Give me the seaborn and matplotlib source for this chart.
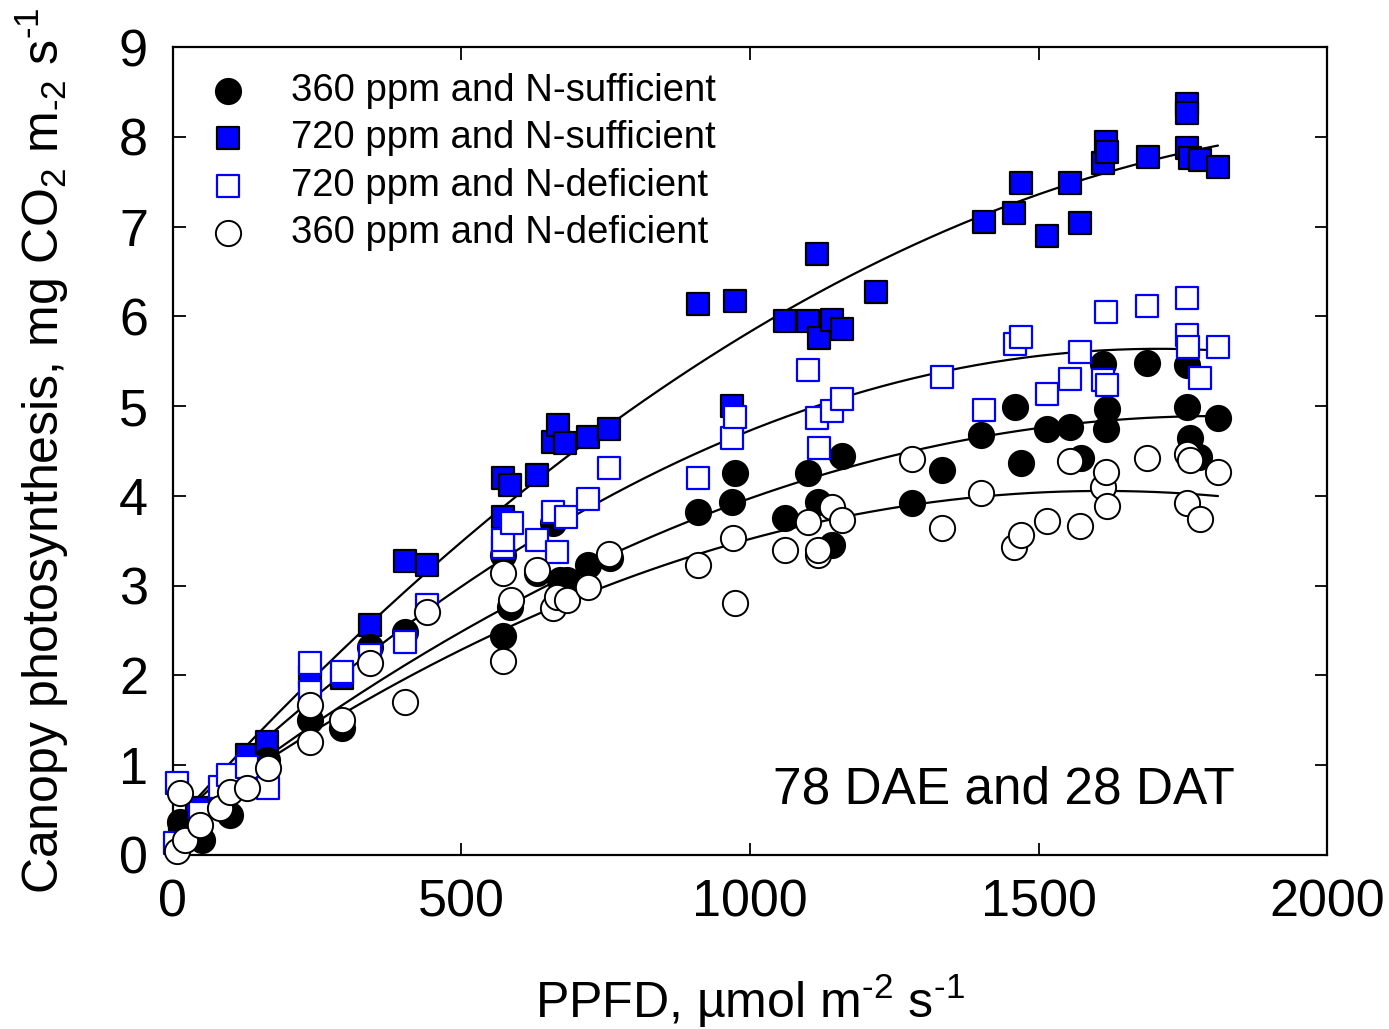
import numpy as np
import matplotlib
matplotlib.use("Agg")
import matplotlib.pyplot as plt
import seaborn as sns

# PPFD (x) and canopy photosynthesis (y), one pair of lists per treatment
x_360_suff = [12, 50, 99, 163, 237, 293, 341, 402, 572, 572, 584, 631, 659, 671, 683, 719, 757,
              910, 969, 974, 1061, 1100, 1118, 1142, 1159, 1281, 1333, 1400,
              1459, 1470, 1515, 1555, 1574, 1612, 1617, 1619, 1688, 1757, 1757, 1763, 1778, 1811]
y_360_suff = [0.37, 0.17, 0.45, 1.06, 1.50, 1.41, 2.32, 2.48, 3.34, 2.44, 2.76, 3.14, 3.70, 3.06, 3.06, 3.23, 3.31,
              3.82, 3.93, 4.26, 3.75, 4.26, 3.93, 3.45, 4.44, 3.92, 4.29, 4.68,
              4.99, 4.37, 4.75, 4.77, 4.42, 5.47, 4.74, 4.97, 5.48, 5.46, 4.99, 4.65, 4.43, 4.87]

x_720_suff = [12, 41, 128, 163, 237, 293, 341, 402, 440, 572, 572, 584, 631, 659, 667, 679, 719, 756,
              910, 969, 974, 1061, 1100, 1116, 1120, 1142, 1159, 1218,
              1405, 1458, 1470, 1515, 1555, 1572, 1612, 1617, 1619, 1690, 1757, 1757, 1757, 1763, 1780, 1811]
y_720_suff = [0.28, 0.52, 1.11, 1.26, 1.98, 1.97, 2.56, 3.28, 3.23, 4.20, 3.77, 4.12, 4.23, 4.60, 4.79, 4.59, 4.66, 4.75,
              6.14, 5.00, 6.17, 5.95, 5.95, 6.69, 5.76, 5.96, 5.86, 6.27,
              7.05, 7.15, 7.48, 6.90, 7.48, 7.04, 7.71, 7.94, 7.83, 7.77, 8.36, 8.26, 7.88, 7.76, 7.74, 7.66]

x_720_def = [3, 7, 47, 81, 95, 128, 165, 237, 237, 293, 341, 402, 440,
             572, 572, 588, 631, 659, 666, 681, 719, 756, 910, 969, 974,
             1100, 1116, 1120, 1142, 1159, 1333, 1405, 1459, 1470, 1515, 1555, 1572,
             1612, 1617, 1619, 1688, 1757, 1757, 1759, 1780, 1811]
y_720_def = [0.13, 0.80, 0.47, 0.76, 0.89, 0.98, 0.75, 2.14, 1.82, 2.04, 2.23, 2.37, 2.78,
             3.43, 3.51, 3.70, 3.51, 3.82, 3.37, 3.76, 3.96, 4.31, 4.20, 4.64, 4.88,
             5.40, 4.87, 4.53, 4.95, 5.08, 5.32, 4.96, 5.69, 5.77, 5.14, 5.30, 5.60,
             5.29, 6.05, 5.23, 6.11, 6.20, 5.79, 5.66, 5.31, 5.66]

x_360_def = [7, 12, 21, 47, 81, 99, 128, 165, 237, 237, 293, 341, 402, 440,
             572, 572, 586, 631, 659, 666, 683, 719, 756, 910, 971, 974, 1061,
             1100, 1118, 1118, 1142, 1159, 1281, 1333, 1400, 1458, 1470, 1515, 1555, 1572,
             1612, 1617, 1619, 1688, 1757, 1763, 1757, 1780, 1811]
y_360_def = [0.05, 0.69, 0.17, 0.33, 0.52, 0.70, 0.75, 0.97, 1.26, 1.67, 1.50, 2.14, 1.70, 2.71,
             3.14, 2.16, 2.84, 3.18, 2.75, 2.87, 2.84, 2.98, 3.35, 3.23, 3.53, 2.81, 3.40,
             3.71, 3.34, 3.40, 3.88, 3.73, 4.41, 3.64, 4.03, 3.43, 3.57, 3.72, 4.39, 3.66,
             4.10, 4.27, 3.89, 4.42, 4.47, 4.40, 3.92, 3.74, 4.27]

labels = ['360 ppm and N-sufficient', '720 ppm and N-sufficient',
          '720 ppm and N-deficient', '360 ppm and N-deficient']

sns.set_style("ticks")
plt.rcParams['font.family'] = ['Liberation Sans', 'DejaVu Sans']
plt.rcParams['mathtext.fontset'] = 'custom'
plt.rcParams['mathtext.rm'] = 'Liberation Sans'
plt.rcParams['mathtext.default'] = 'regular'
for key in ['text.color', 'axes.labelcolor', 'xtick.color', 'ytick.color', 'axes.edgecolor']:
    plt.rcParams[key] = 'black'

fig = plt.figure(figsize=(13.89, 10.29), dpi=100)
ax = fig.add_axes([0.1245, 0.1691, 0.8309, 0.7852])

# fitted quadratic light-response curves (drawn under the points)
for xs, ys in [(x_720_suff, y_720_suff), (x_720_def, y_720_def),
               (x_360_suff, y_360_suff), (x_360_def, y_360_def)]:
    coef = np.polyfit(xs, ys, 2)
    xx = np.linspace(0, max(xs), 200)
    sns.lineplot(x=xx, y=np.polyval(coef, xx), color='black', lw=1.6, ax=ax, zorder=1, legend=False)

sns.scatterplot(x=x_720_suff, y=y_720_suff, marker='s', s=230, color='#0000ff', edgecolor='black',
                linewidth=1.6, ax=ax, label=labels[1], zorder=3, clip_on=False)
sns.scatterplot(x=x_360_suff, y=y_360_suff, marker='o', s=330, color='black', edgecolor='black',
                linewidth=1.4, ax=ax, label=labels[0], zorder=4, clip_on=False)
sns.scatterplot(x=x_720_def, y=y_720_def, marker='s', s=230, color='white', edgecolor='#0000ff',
                linewidth=1.6, ax=ax, label=labels[2], zorder=5, clip_on=False)
sns.scatterplot(x=x_360_def, y=y_360_def, marker='o', s=330, color='white', edgecolor='black',
                linewidth=1.4, ax=ax, label=labels[3], zorder=6, clip_on=False)

ax.set_xlim(0, 2000)
ax.set_ylim(0, 9)
ax.set_xticks([0, 500, 1000, 1500, 2000])
ax.set_yticks(range(0, 10))
ax.tick_params(direction='in', length=9, width=1.3, labelsize=37.5, top=True, right=True)
ax.tick_params(axis='x', pad=17)
ax.tick_params(axis='y', pad=18)
for sp in ax.spines.values():
    sp.set_linewidth(1.6)

ax.set_xlabel(r'PPFD, µmol m$^{\text{-}2}$ s$^{\text{-}1}$', fontsize=36)
ax.set_ylabel(r'Canopy photosynthesis, mg CO$_2$ m$_{\text{-}2}$ s$^{\text{-}1}$', fontsize=36)
ax.xaxis.set_label_coords(0.5, -0.145)
ax.yaxis.set_label_coords(-0.088, 0.5)

ax.text(0.92, 0.064, '78 DAE and 28 DAT', transform=ax.transAxes, ha='right', va='baseline', fontsize=37)

handles, labs = ax.get_legend_handles_labels()
order = [labs.index(l) for l in labels]
ax.legend([handles[i] for i in order], labels, loc='upper left', bbox_to_anchor=(0.028, 0.968),
          frameon=False, fontsize=27.5, handlelength=1.2, handletextpad=1.05, labelspacing=0.30,
          borderpad=0, borderaxespad=0)

fig.savefig('out.png', dpi=100, facecolor='white')
